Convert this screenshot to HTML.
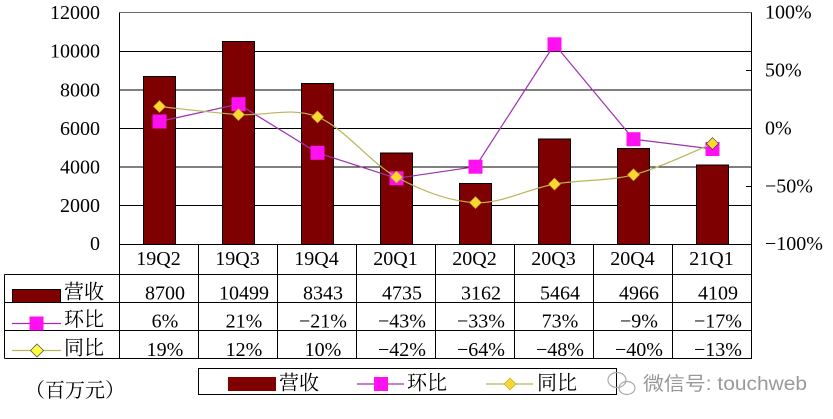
<!DOCTYPE html>
<html><head><meta charset="utf-8"><style>
html,body{margin:0;padding:0;background:#fff;}
svg{display:block;}
.t{font-family:"Liberation Serif","Noto Serif CJK SC",serif;font-size:20px;fill:#000;}
</style></head><body>
<svg width="833" height="419" viewBox="0 0 833 419" xmlns="http://www.w3.org/2000/svg">
<rect width="833" height="419" fill="#fff"/>
<!-- gridlines -->
<g stroke="#000" stroke-width="1" shape-rendering="crispEdges">
<line x1="119.5" y1="12.5" x2="751.5" y2="12.5" stroke="#666"/>
<line x1="119.5" y1="51.5" x2="751.5" y2="51.5"/>
<line x1="119.5" y1="90" x2="751.5" y2="90"/>
<line x1="119.5" y1="128.5" x2="751.5" y2="128.5"/>
<line x1="119.5" y1="167" x2="751.5" y2="167"/>
<line x1="119.5" y1="205.5" x2="751.5" y2="205.5"/>
</g>
<!-- bars -->
<g fill="#7f0000" stroke="#000" stroke-width="1" shape-rendering="crispEdges">
<rect x="143.5" y="76.4" width="32" height="167.9"/>
<rect x="222.5" y="41.7" width="32" height="202.6"/>
<rect x="301.5" y="83.3" width="32" height="161"/>
<rect x="380.5" y="152.9" width="32" height="91.4"/>
<rect x="459.5" y="183.3" width="32" height="61"/>
<rect x="538.5" y="138.8" width="32" height="105.5"/>
<rect x="617.5" y="148.5" width="32" height="95.8"/>
<rect x="696.5" y="165" width="32" height="79.3"/>
</g>
<!-- axes & table lines -->
<g stroke="#000" stroke-width="1" shape-rendering="crispEdges">
<line x1="119.5" y1="12.5" x2="119.5" y2="359"/>
<line x1="751.5" y1="12.5" x2="751.5" y2="359"/>
<line x1="119.5" y1="244.5" x2="751.5" y2="244.5"/>
<line x1="198.5" y1="244.5" x2="198.5" y2="359"/>
<line x1="277.5" y1="244.5" x2="277.5" y2="359"/>
<line x1="356.5" y1="244.5" x2="356.5" y2="359"/>
<line x1="435.5" y1="244.5" x2="435.5" y2="359"/>
<line x1="514.5" y1="244.5" x2="514.5" y2="359"/>
<line x1="593.5" y1="244.5" x2="593.5" y2="359"/>
<line x1="672.5" y1="244.5" x2="672.5" y2="359"/>
<line x1="4.5" y1="274.5" x2="751.5" y2="274.5"/>
<line x1="4.5" y1="302.5" x2="751.5" y2="302.5"/>
<line x1="4.5" y1="330.5" x2="751.5" y2="330.5"/>
<line x1="4.5" y1="358.5" x2="751.5" y2="358.5"/>
<line x1="4.5" y1="274.5" x2="4.5" y2="358.5"/>
<line x1="746" y1="70.5" x2="751.5" y2="70.5"/>
<line x1="746" y1="186.5" x2="751.5" y2="186.5"/>
</g>
<!-- magenta line -->
<polyline fill="none" stroke="#a030b0" stroke-width="1.2" points="159.5,121.5 238.5,104.2 317.5,152.8 396.5,178.3 475.5,166.7 554.5,44.3 633.5,139.2 712.5,149"/>
<g fill="#ff10f0">
<rect x="152.5" y="114.5" width="14" height="14"/>
<rect x="231.5" y="97.2" width="14" height="14"/>
<rect x="310.5" y="145.8" width="14" height="14"/>
<rect x="389.5" y="171.3" width="14" height="14"/>
<rect x="468.5" y="159.7" width="14" height="14"/>
<rect x="547.5" y="37.3" width="14" height="14"/>
<rect x="626.5" y="132.2" width="14" height="14"/>
<rect x="705.5" y="142" width="14" height="14"/>
</g>
<!-- yellow smooth line -->
<path fill="none" stroke="#b8b45a" stroke-width="1.2" d="M159.5,106.5 C172.67,107.85 212.17,112.87 238.5,114.6 C264.83,116.33 291.17,106.48 317.5,116.9 C343.83,127.32 370.17,162.82 396.5,177.1 C422.83,191.38 449.17,201.43 475.5,202.6 C501.83,203.77 528.17,188.73 554.5,184.1 C580.83,179.47 607.17,181.55 633.5,174.8 C659.83,168.05 699.33,148.8 712.5,143.6"/>
<g fill="#f8d830" stroke="#c0a020" stroke-width="0.6">
<polygon points="159.5,100.5 165.5,106.5 159.5,112.5 153.5,106.5"/>
<polygon points="238.5,108.6 244.5,114.6 238.5,120.6 232.5,114.6"/>
<polygon points="317.5,110.9 323.5,116.9 317.5,122.9 311.5,116.9"/>
<polygon points="396.5,171.1 402.5,177.1 396.5,183.1 390.5,177.1"/>
<polygon points="475.5,196.6 481.5,202.6 475.5,208.6 469.5,202.6"/>
<polygon points="554.5,178.1 560.5,184.1 554.5,190.1 548.5,184.1"/>
<polygon points="633.5,168.8 639.5,174.8 633.5,180.8 627.5,174.8"/>
<polygon points="712.5,137.6 718.5,143.6 712.5,149.6 706.5,143.6" stroke="#333"/>
</g>
<!-- left axis labels -->
<g class="t" text-anchor="end">
<text x="100" y="19">12000</text>
<text x="100" y="57.5">10000</text>
<text x="100" y="96.5">8000</text>
<text x="100" y="135">6000</text>
<text x="100" y="173.5">4000</text>
<text x="100" y="212">2000</text>
<text x="100" y="250">0</text>
</g>
<!-- right axis labels -->
<g class="t">
<text x="765" y="18.5">100%</text>
<text x="765" y="76.5">50%</text>
<text x="765" y="134.5">0%</text>
<text x="765" y="192.5">−50%</text>
<text x="765" y="250">−100%</text>
</g>
<!-- category labels -->
<g class="t" text-anchor="middle">
<text x="158.5" y="265">19Q2</text>
<text x="237.5" y="265">19Q3</text>
<text x="316.5" y="265">19Q4</text>
<text x="395.5" y="265">20Q1</text>
<text x="474.5" y="265">20Q2</text>
<text x="553.5" y="265">20Q3</text>
<text x="632.5" y="265">20Q4</text>
<text x="711.5" y="265">21Q1</text>
</g>
<!-- table values -->
<g class="t" text-anchor="middle">
<text x="165" y="299.5">8700</text>
<text x="244" y="299.5">10499</text>
<text x="323" y="299.5">8343</text>
<text x="402" y="299.5">4735</text>
<text x="481" y="299.5">3162</text>
<text x="560" y="299.5">5464</text>
<text x="639" y="299.5">4966</text>
<text x="718" y="299.5">4109</text>
<text x="165" y="327.5">6%</text>
<text x="244" y="327.5">21%</text>
<text x="323" y="327.5">−21%</text>
<text x="402" y="327.5">−43%</text>
<text x="481" y="327.5">−33%</text>
<text x="560" y="327.5">73%</text>
<text x="639" y="327.5">−9%</text>
<text x="718" y="327.5">−17%</text>
<text x="165" y="356">19%</text>
<text x="244" y="356">12%</text>
<text x="323" y="356">10%</text>
<text x="402" y="356">−42%</text>
<text x="481" y="356">−64%</text>
<text x="560" y="356">−48%</text>
<text x="639" y="356">−40%</text>
<text x="718" y="356">−13%</text>
</g>
<!-- table row legend keys -->
<rect x="12.5" y="289.5" width="48" height="13" fill="#7f0000" stroke="#000" stroke-width="1" shape-rendering="crispEdges"/>
<line x1="12" y1="323.5" x2="61" y2="323.5" stroke="#a030b0" stroke-width="1.2"/>
<rect x="29.5" y="316.5" width="14" height="14" fill="#ff10f0"/>
<line x1="12" y1="350.5" x2="61" y2="350.5" stroke="#b8b45a" stroke-width="1.2"/>
<polygon points="37,344 43.5,350.5 37,357 30.5,350.5" fill="#ffff40" stroke="#555" stroke-width="0.8"/>
<g class="t">
<text x="64" y="298.5">营收</text>
<text x="64" y="326">环比</text>
<text x="64" y="354.5">同比</text>
<text x="25" y="397">（百万元）</text>
</g>
<!-- legend -->
<rect x="198.5" y="368.5" width="418" height="26" fill="#fff" stroke="#000" stroke-width="1" shape-rendering="crispEdges"/>
<rect x="228" y="377" width="48" height="14" fill="#7f0000"/>
<line x1="357" y1="384" x2="404" y2="384" stroke="#a030b0" stroke-width="1.2"/>
<rect x="374" y="377" width="14" height="14" fill="#ff10f0"/>
<line x1="486" y1="384" x2="533" y2="384" stroke="#b8b45a" stroke-width="1.2"/>
<polygon points="510,378 516,384 510,390 504,384" fill="#f8d830" stroke="#c0a020" stroke-width="0.6"/>
<g class="t">
<text x="279" y="389.5">营收</text>
<text x="407" y="389.5">环比</text>
<text x="537" y="389.5">同比</text>
</g>
<!-- watermark -->
<g fill="none" stroke="#aaa" stroke-width="1.2">
<ellipse cx="617" cy="380" rx="9" ry="7.5"/>
<ellipse cx="627" cy="388" rx="8" ry="6.5"/>
</g>
<text x="643" y="390" textLength="164" lengthAdjust="spacingAndGlyphs" style="font-family:'Liberation Sans','Noto Sans CJK SC',sans-serif;font-size:19px;fill:#999;">微信号: touchweb</text>
</svg>
</body></html>
